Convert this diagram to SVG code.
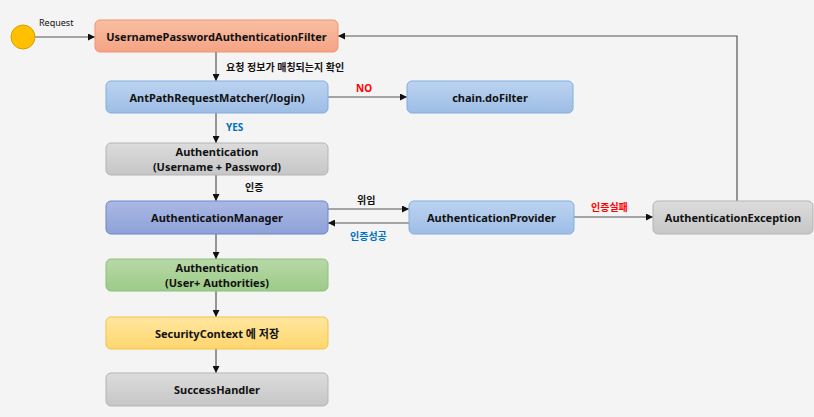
<svg xmlns="http://www.w3.org/2000/svg" width="814" height="417" viewBox="0 0 814 417">
<defs>
<linearGradient id="gOrange" x1="0" y1="0" x2="0" y2="1"><stop offset="0" stop-color="#f9bea3"/><stop offset="1" stop-color="#f4a384"/></linearGradient>
<linearGradient id="gBlue" x1="0" y1="0" x2="0" y2="1"><stop offset="0" stop-color="#bcd3f0"/><stop offset="1" stop-color="#9dbde6"/></linearGradient>
<linearGradient id="gGrey" x1="0" y1="0" x2="0" y2="1"><stop offset="0" stop-color="#dcdcdc"/><stop offset="1" stop-color="#c6c6c6"/></linearGradient>
<linearGradient id="gPurple" x1="0" y1="0" x2="0" y2="1"><stop offset="0" stop-color="#aab8e4"/><stop offset="1" stop-color="#8ea2d8"/></linearGradient>
<linearGradient id="gGreen" x1="0" y1="0" x2="0" y2="1"><stop offset="0" stop-color="#b8d8a8"/><stop offset="1" stop-color="#9ccb87"/></linearGradient>
<linearGradient id="gYellow" x1="0" y1="0" x2="0" y2="1"><stop offset="0" stop-color="#ffe6a0"/><stop offset="1" stop-color="#ffd66e"/></linearGradient>
<marker id="arr" viewBox="0 0 10 10" refX="10" refY="5" markerWidth="7" markerHeight="7" markerUnits="userSpaceOnUse" orient="auto"><path d="M0,0 L10,5 L0,10 z" fill="#111"/></marker>
</defs>
<style>
.t{font-family:"Noto Sans","Noto Sans CJK KR",sans-serif;font-weight:bold;font-size:11px;fill:#111;text-anchor:middle;dominant-baseline:central}
.l{font-family:"Noto Sans","Noto Sans CJK KR",sans-serif;font-weight:bold;font-size:10px;fill:#111}
.c{fill:none;stroke:#555;stroke-width:1.2;marker-end:url(#arr)}
.box{stroke-width:1}
</style>
<rect width="814" height="417" fill="#f4f4f4"/>
<g id="connectors">
<line class="c" x1="35" y1="37" x2="95" y2="37"/>
<line class="c" x1="216" y1="52" x2="216" y2="81"/>
<line class="c" x1="328" y1="97" x2="407" y2="97"/>
<line class="c" x1="216" y1="113" x2="216" y2="143"/>
<line class="c" x1="216" y1="175" x2="216" y2="201"/>
<line class="c" x1="328" y1="209" x2="409" y2="209"/>
<line class="c" x1="409" y1="223" x2="328" y2="223"/>
<line class="c" x1="574" y1="217" x2="653" y2="217"/>
<polyline class="c" points="737,201 737,36 338,36"/>
<line class="c" x1="216" y1="234" x2="216" y2="259"/>
<line class="c" x1="216" y1="291" x2="216" y2="317"/>
<line class="c" x1="216" y1="349" x2="216" y2="373"/>
<text class="l" x="39" y="26" style="font-weight:normal;font-size:9px">Request</text>
<text class="l" x="226" y="71">요청 정보가 매칭되는지 확인</text>
<text class="l" x="356" y="92" style="fill:#ff0000">NO</text>
<text class="l" x="226" y="131" style="fill:#0070c0">YES</text>
<text class="l" x="245" y="191">인증</text>
<text class="l" x="357" y="204">위임</text>
<text class="l" x="350" y="240" style="fill:#0070c0">인증성공</text>
<text class="l" x="591" y="211" style="fill:#ff0000">인증실패</text>
</g>
<g id="start"><circle cx="23" cy="37" r="12" fill="#ffc000" stroke="#d4a000"/></g>
<g id="filter"><rect class="box" x="95" y="20" width="243" height="32" rx="5" fill="url(#gOrange)" stroke="#f0956a"/><text class="t" x="216.5" y="36">UsernamePasswordAuthenticationFilter</text></g>
<g id="matcher"><rect class="box" x="106" y="81" width="222" height="32" rx="5" fill="url(#gBlue)" stroke="#82ade0"/><text class="t" x="217" y="97">AntPathRequestMatcher(/login)</text></g>
<g id="dofilter"><rect class="box" x="407" y="81" width="166" height="32" rx="5" fill="url(#gBlue)" stroke="#82ade0"/><text class="t" x="490" y="97">chain.doFilter</text></g>
<g id="auth1"><rect class="box" x="106" y="143" width="222" height="32" rx="5" fill="url(#gGrey)" stroke="#b4b4b4"/><text class="t" x="217" y="151.5">Authentication</text><text class="t" x="217" y="166">(Username + Password)</text></g>
<g id="manager"><rect class="box" x="106" y="201" width="222" height="33" rx="5" fill="url(#gPurple)" stroke="#6f86c8"/><text class="t" x="217" y="217.5">AuthenticationManager</text></g>
<g id="provider"><rect class="box" x="409" y="201" width="165" height="33" rx="5" fill="url(#gBlue)" stroke="#82ade0"/><text class="t" x="491.5" y="217.5">AuthenticationProvider</text></g>
<g id="exception"><rect class="box" x="653" y="201" width="160" height="33" rx="5" fill="url(#gGrey)" stroke="#b4b4b4"/><text class="t" x="733" y="217.5">AuthenticationException</text></g>
<g id="auth2"><rect class="box" x="106" y="259" width="222" height="32" rx="5" fill="url(#gGreen)" stroke="#8cc07a"/><text class="t" x="217" y="267.5">Authentication</text><text class="t" x="217" y="282">(User+ Authorities)</text></g>
<g id="context"><rect class="box" x="106" y="317" width="222" height="32" rx="5" fill="url(#gYellow)" stroke="#f5c342"/><text class="t" x="217" y="333">SecurityContext 에 저장</text></g>
<g id="success"><rect class="box" x="106" y="373" width="222" height="33" rx="5" fill="url(#gGrey)" stroke="#b4b4b4"/><text class="t" x="217" y="389.5">SuccessHandler</text></g>
</svg>
